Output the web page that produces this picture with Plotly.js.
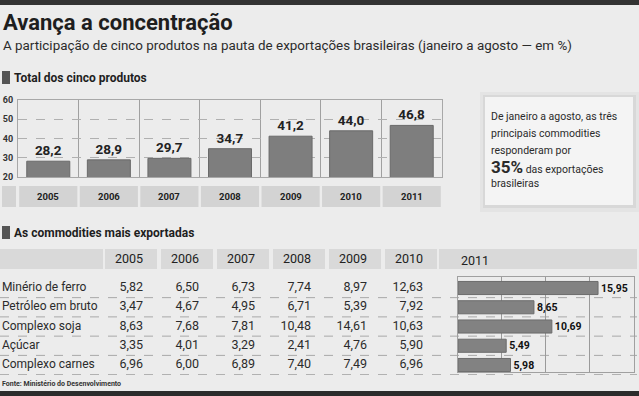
<!DOCTYPE html>
<html><head><meta charset="utf-8">
<script src="https://cdn.plot.ly/plotly-3.0.1.min.js"></script>
<style>html,body{margin:0;padding:0;background:#ececec;}#chart{width:639px;height:396px;}</style>
</head><body><div id="chart"></div>
<script>
// ---- data ----
const years = ["2005","2006","2007","2008","2009","2010","2011"];
const totalShare = [28.2, 28.9, 29.7, 34.7, 41.2, 44.0, 46.8];
const products = ["Minério de ferro","Petróleo em bruto","Complexo soja","Açúcar","Complexo carnes"];
const v2005 = [5.82, 3.47, 8.63, 3.35, 6.96];
const v2006 = [6.50, 4.67, 7.68, 4.01, 6.00];
const v2007 = [6.73, 4.95, 7.81, 3.29, 6.89];
const v2008 = [7.74, 6.71, 10.48, 2.41, 7.40];
const v2009 = [8.97, 5.39, 14.61, 4.76, 7.49];
const v2010 = [12.63, 7.92, 10.63, 5.90, 6.96];
const v2011 = [15.95, 8.65, 10.69, 5.49, 5.98];
const yTicks = [20, 30, 40, 50, 60];
const xTicks2011 = [0, 5, 10, 15, 20];

// ---- helpers ----
const W = 639, H = 396;
const px = x => x / W, py = y => 1 - y / H;
const FONT = "Roboto, Liberation Sans, sans-serif";
const fmt = v => v.toFixed(2).replace('.', ',');
const tableCols = [v2005, v2006, v2007, v2008, v2009, v2010];
const rowIdx = products.map((_, i) => i);

const traces = [];
traces.push({
  type: 'bar', x: years, y: totalShare, xaxis: 'x', yaxis: 'y',
  marker: {color: '#7e7e7e', line: {color: '#6a6a6a', width: 1}},
  width: 0.71,
  texttemplate: '%{y:.1f}', textposition: 'outside', cliponaxis: false, constraintext: 'none',
  textfont: {family: FONT, size: 13.5, color: '#222', weight: 'bold'},
  hoverinfo: 'none'
});
tableCols.forEach((col, c) => {
  traces.push({
    type: 'scatter', mode: 'text', xaxis: 'x3', yaxis: 'y3',
    x: col.map(() => c), y: rowIdx, text: col.map(fmt),
    textposition: 'middle left',
    textfont: {family: FONT, size: 12.5, color: '#2b2b2b'}, hoverinfo: 'none'
  });
});
traces.push({
  type: 'scatter', mode: 'text', xaxis: 'x3', yaxis: 'y3',
  x: tableCols.map((_, c) => c), y: tableCols.map(() => -1.45),
  text: years.slice(0, 6), textposition: 'middle left',
  textfont: {family: FONT, size: 12.5, color: '#222'}, hoverinfo: 'none'
});
traces.push({
  type: 'scatter', mode: 'text', xaxis: 'x3', yaxis: 'y3',
  x: products.map(() => -2.52), y: rowIdx, text: products,
  textposition: 'middle right',
  textfont: {family: FONT, size: 12, color: '#2b2b2b'}, hoverinfo: 'none'
});
traces.push({
  type: 'bar', orientation: 'h', x: v2011, y: rowIdx, xaxis: 'x4', yaxis: 'y4',
  width: 0.68,
  marker: {color: '#828282', line: {color: '#6c6c6c', width: 1}},
  texttemplate: '%{x:.2f}', textposition: 'outside', cliponaxis: false, constraintext: 'none',
  textfont: {family: FONT, size: 10.5, color: '#111', weight: 'bold'},
  hoverinfo: 'none'
});

const colX = p => (p - 143) / 56;
const rowY = p => (p - 288) / 19.25;

const shapes = [];
shapes.push({type: 'rect', xref: 'paper', yref: 'paper', x0: 0, x1: 1, y0: py(5), y1: 1, fillcolor: '#333', line: {width: 0}, layer: 'below'});
shapes.push({type: 'rect', xref: 'paper', yref: 'paper', x0: 0, x1: 1, y0: 0, y1: py(391), fillcolor: '#2b2b2b', line: {width: 0}, layer: 'below'});
shapes.push({type: 'rect', xref: 'paper', yref: 'paper', x0: px(2), x1: px(10), y0: py(84), y1: py(71), fillcolor: '#555', line: {width: 0}});
shapes.push({type: 'rect', xref: 'paper', yref: 'paper', x0: px(2), x1: px(10), y0: py(239), y1: py(226), fillcolor: '#555', line: {width: 0}});
shapes.push({type: 'rect', xref: 'paper', yref: 'paper', x0: px(2), x1: px(16), y0: py(207), y1: py(186), fillcolor: '#d3d3d3', line: {width: 0}, layer: 'below'});
years.forEach((y, i) => {
  shapes.push({type: 'rect', xref: 'x', yref: 'paper', x0: i - 0.48, x1: i + 0.48, y0: py(207), y1: py(186), fillcolor: '#d3d3d3', line: {width: 0}, layer: 'below'});
});
shapes.push({type: 'rect', xref: 'paper', yref: 'paper', x0: px(480), x1: px(639), y0: py(212), y1: py(92), fillcolor: 'rgba(0,0,0,0.03)', line: {width: 0}, layer: 'below'});
shapes.push({type: 'rect', xref: 'paper', yref: 'paper', x0: px(483), x1: px(636), y0: py(208), y1: py(95), fillcolor: 'rgba(0,0,0,0.05)', line: {width: 0}, layer: 'below'});
shapes.push({type: 'rect', xref: 'paper', yref: 'paper', x0: px(485), x1: px(633), y0: py(205), y1: py(97), fillcolor: '#f4f4f4', line: {width: 0}, layer: 'below'});
shapes.push({type: 'rect', xref: 'paper', yref: 'y3', x0: 0, x1: px(103), y0: rowY(249), y1: rowY(269), fillcolor: '#d9d9d9', line: {width: 0}, layer: 'below'});
tableCols.forEach((_, c) => {
  shapes.push({type: 'rect', xref: 'x3', yref: 'y3', x0: c - 38 / 56, x1: c + 14 / 56, y0: rowY(249), y1: rowY(269), fillcolor: '#d9d9d9', line: {width: 0}, layer: 'below'});
});
shapes.push({type: 'rect', xref: 'x3', yref: 'y3', x0: 5 + 16 / 56, x1: colX(637), y0: rowY(249), y1: rowY(269), fillcolor: '#d9d9d9', line: {width: 0}, layer: 'below'});
rowIdx.forEach(r => {
  shapes.push({type: 'line', xref: 'paper', yref: 'y3', x0: 0, x1: px(637), y0: r + 0.5, y1: r + 0.5, line: {color: '#a8a8a8', width: 1, dash: 'dash'}, layer: 'below'});
});

const annotations = [];
const ann = (x, y, text, size, color) => ({xref: 'paper', yref: 'paper', x: px(x), y: py(y), xanchor: 'left', yanchor: 'middle',
  showarrow: false, text: text, font: {family: FONT, size: size, color: color}});
annotations.push(ann(1, 23, '<b>Avança a concentração</b>', 22, '#1e1e1e'));
annotations.push(ann(1, 46, 'A participação de cinco produtos na pauta de exportações brasileiras (janeiro a agosto — em %)', 13.4, '#2b2b2b'));
annotations.push(ann(12, 78, '<b>Total dos cinco produtos</b>', 12, '#1e1e1e'));
annotations.push(ann(12, 233, '<b>As commodities mais exportadas</b>', 12, '#1e1e1e'));
years.forEach((y, i) => {
  annotations.push({xref: 'x', yref: 'paper', x: i, y: py(197), xanchor: 'center', yanchor: 'middle', showarrow: false,
    text: '<b>' + y + '</b>', font: {family: FONT, size: 9.5, color: '#222'}});
});
annotations.push({xref: 'paper', yref: 'y3', x: px(459), y: rowY(260), xanchor: 'left', yanchor: 'middle', showarrow: false,
  text: years[6], font: {family: FONT, size: 12.5, color: '#222'}});
const callout = [
  'De janeiro a agosto, as três',
  'principais commodities',
  'responderam por',
  '<b><span style="font-size:17px">35%</span></b> das exportações',
  'brasileiras'
];
const calloutY = [117, 133, 150, 167, 183];
callout.forEach((t, i) => annotations.push(ann(489, calloutY[i], t, 10.5, '#2b2b2b')));
annotations.push(ann(0, 384, '<b>Fonte: Ministério do Desenvolvimento</b>', 7, '#333'));

const layout = {
  width: W, height: H, margin: {l: 0, r: 0, t: 0, b: 0},
  paper_bgcolor: '#ececec', plot_bgcolor: 'rgba(0,0,0,0)',
  separators: ',.', showlegend: false, dragmode: false,
  font: {family: FONT},
  xaxis: {domain: [px(18), px(442)], anchor: 'y', type: 'category', range: [-0.5, 6.5], tickson: 'boundaries',
    showgrid: true, gridcolor: '#a0a0a0', gridwidth: 1, showticklabels: false, ticks: '',
    showline: true, mirror: true, linecolor: '#a8a8a8', fixedrange: true},
  yaxis: {domain: [py(177), py(100)], anchor: 'x', range: [20, 60], tickvals: yTicks, showgrid: true, gridcolor: '#b0b0b0', griddash: 'dash',
    showline: true, mirror: true, linecolor: '#a8a8a8', zeroline: false, ticks: '', ticklabelstandoff: 2,
    tickfont: {family: FONT, size: 9, color: '#333', weight: 'bold'}, fixedrange: true},
  xaxis3: {domain: [0, 1], anchor: 'y3', range: [colX(0), colX(W)], visible: false, fixedrange: true},
  yaxis3: {domain: [py(375), py(249)], anchor: 'x3', range: [rowY(375), rowY(249)], visible: false, fixedrange: true},
  xaxis4: {domain: [px(458), px(633.6)], anchor: 'y4', range: [0, 20], tickvals: xTicks2011, showgrid: true, gridcolor: '#9a9a9a',
    showticklabels: false, ticks: '', zeroline: false, showline: true, mirror: true, linecolor: '#a0a0a0', fixedrange: true},
  yaxis4: {domain: [py(372), py(277)], anchor: 'x4', range: [rowY(372), rowY(277)], showgrid: false, showticklabels: false, ticks: '',
    zeroline: false, showline: true, mirror: true, linecolor: '#a0a0a0', fixedrange: true},
  shapes: shapes, annotations: annotations
};
Plotly.newPlot('chart', traces, layout, {staticPlot: true, displayModeBar: false});
</script>
</body></html>
